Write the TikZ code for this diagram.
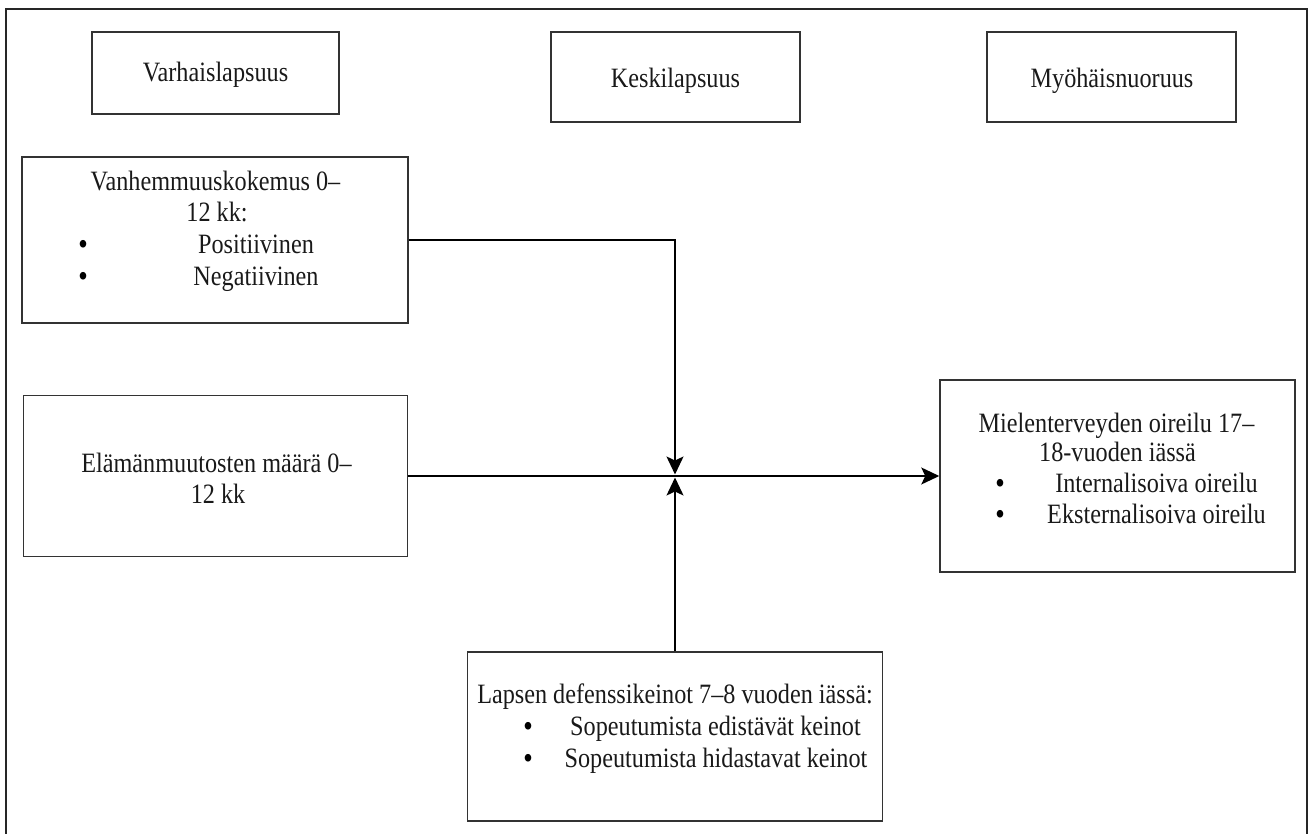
\documentclass[tikz,border=0pt]{standalone}
\usepackage{fontspec}
\setmainfont{Liberation Serif}[FakeStretch=0.865]
\usetikzlibrary{arrows.meta}
\begin{document}
\begin{tikzpicture}[x=1pt,y=-1pt,
  box/.style={draw=black!80, line width=1.5pt, inner sep=0pt},
  txt/.style={anchor=base, inner sep=0pt, text=black!90, font=\fontsize{28}{31}\selectfont},
  bul/.style={anchor=base, inner sep=0pt, font=\fontsize{28}{31}\selectfont},
  conn/.style={line width=1.5pt, draw=black},
  tip/.style={-{Stealth[length=18pt,width=17pt,inset=4pt]}}]
\useasboundingbox (0,0) rectangle (1311,834);
\draw[line width=1.6pt, black!85] (6,834) -- (6,9) -- (1307,9) -- (1307,834);
% boxes
\node[box, minimum width=247pt, minimum height=82pt] (h1) at (215.5,73) {};
\node[box, minimum width=249pt, minimum height=90pt] (h2) at (675.5,77) {};
\node[box, minimum width=249pt, minimum height=90pt] (h3) at (1111.5,77) {};
\node[box, minimum width=386pt, minimum height=166pt] (vk) at (215,240) {};
\node[box, minimum width=384pt, minimum height=161pt] (em) at (215.5,476) {};
\node[box, minimum width=355pt, minimum height=192pt] (mo) at (1117.5,476) {};
\node[box, minimum width=415pt, minimum height=169pt] (ld) at (675,736.5) {};
% texts
\node[txt] (t1) at (215.5,82) {Varhaislapsuus};
\node[txt] (t2) at (675.5,88) {Keskilapsuus};
\node[txt] (t3) at (1112,88) {Myöhäisnuoruus};
\node[txt] (vk1) at (215.5,191) {Vanhemmuuskokemus 0–};
\node[txt] (vk2) at (217,222) {12 kk:};
\node[bul] (vkb1) at (83,254) {\textbf{•}};
\node[bul] (vkb2) at (83,285) {\textbf{•}};
\node[txt] (vki1) at (256,254) {Positiivinen};
\node[txt] (vki2) at (256,285) {Negatiivinen};
\node[txt] (em1) at (216.5,472) {Elämänmuutosten määrä 0–};
\node[txt] (em2) at (218,503) {12 kk};
\node[txt] (mo1) at (1116.5,432) {Mielenterveyden oireilu 17–};
\node[txt] (mo2) at (1117.5,461) {18-vuoden iässä};
\node[bul] (mob1) at (1000,492) {\textbf{•}};
\node[bul] (mob2) at (1000,523) {\textbf{•}};
\node[txt] (moi1) at (1156.5,492) {Internalisoiva oireilu};
\node[txt] (moi2) at (1156.5,523) {Eksternalisoiva oireilu};
\node[txt] (ld1) at (675,703) {Lapsen defenssikeinot 7–8 vuoden iässä:};
\node[bul] (ldb1) at (528,735) {\textbf{•}};
\node[bul] (ldb2) at (528,767) {\textbf{•}};
\node[txt] (ldi1) at (715.5,735) {Sopeutumista edistävät keinot};
\node[txt] (ldi2) at (716,767) {Sopeutumista hidastavat keinot};
% connectors
\coordinate (jt) at (675,474.5);
\coordinate (jb) at (675,477.5);
\draw[conn, tip] (vk.east) -| (jt);
\draw[conn, tip] (em.east) -- (mo.west);
\draw[conn, tip] (ld.north) -- (jb);
\end{tikzpicture}
\end{document}
